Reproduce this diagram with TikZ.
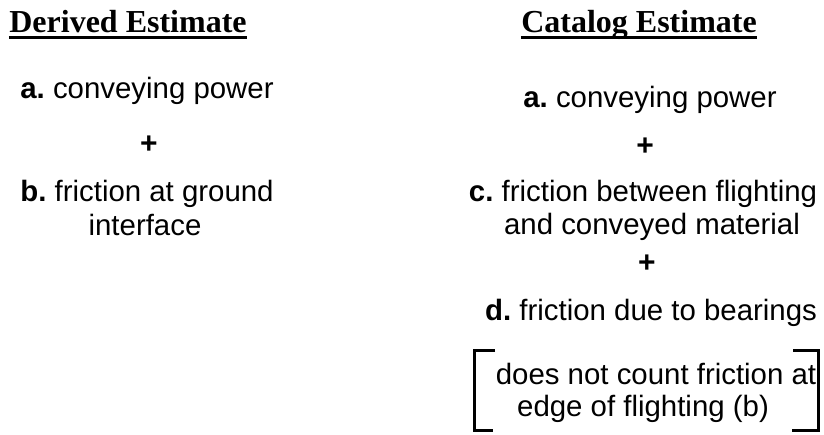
\documentclass[tikz,border=0pt]{standalone}
\usepackage{fontspec}
\setmainfont{Liberation Sans}
\newfontfamily\headfont{Liberation Serif}
\frenchspacing
\begin{document}
\begin{tikzpicture}[x=0.5pt,y=-0.5pt,
  head/.style={inner sep=0pt,anchor=base,font=\headfont\bfseries\fontsize{16}{19}\selectfont},
  item/.style={inner sep=0pt,anchor=base,font=\fontsize{14.7}{17}\selectfont},
  plus/.style={inner sep=0pt,font=\bfseries\fontsize{15}{17}\selectfont},
  uline/.style={line width=1.5pt},
  brack/.style={line width=1.5pt}]
  \useasboundingbox (0,0) rectangle (824,434);
  % derived estimate
  \node[head] (dhead) at (128,32) {Derived Estimate};
  \draw[uline] ([yshift=-2.5pt]dhead.base west) -- ([yshift=-2.5pt]dhead.base east);
  \node[item] (da) at (147,98) {\textbf{a.} conveying power};
  \node[plus] (dplus) at (149,145) {+};
  \node[item] (db) at (147,201) {\textbf{b.} friction at ground};
  \node[item] (dbb) at (145,235) {interface};
  % catalog estimate
  \node[head] (chead) at (639,32) {Catalog Estimate};
  \draw[uline] ([yshift=-2.5pt]chead.base west) -- ([yshift=-2.5pt]chead.base east);
  \node[item] (ca) at (650,107) {\textbf{a.} conveying power};
  \node[plus] (cplus) at (645,147) {+};
  \node[item] (cc) at (643,201) {\textbf{c.} friction between flighting};
  \node[item] (ccc) at (652,234) {and conveyed material};
  \node[plus] (cplusb) at (647,264) {+};
  \node[item] (cd) at (651,320) {\textbf{d.} friction due to bearings};
  \node[item] (cnote) at (656,384) {does not count friction at};
  \node[item] (cnoteb) at (643,416) {edge of flighting (b)};
  % brackets round the note
  \draw[brack] (495,350) -- (474,350) -- (474,430) -- (493,430);
  \draw[brack] (793,350) -- (818,350) -- (818,430) -- (792,430);
\end{tikzpicture}
\end{document}
